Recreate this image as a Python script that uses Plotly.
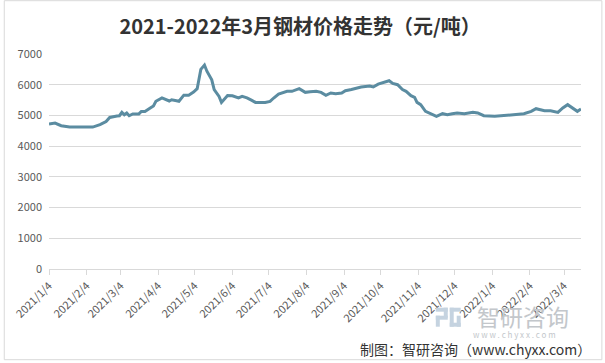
import plotly.graph_objects as go

dates = [
    "2021-01-04", "2021-01-09", "2021-01-14", "2021-01-18", "2021-01-21", "2021-02-09",
    "2021-02-15", "2021-02-20", "2021-02-23", "2021-03-01", "2021-03-03", "2021-03-05",
    "2021-03-07", "2021-03-09", "2021-03-11", "2021-03-14", "2021-03-19", "2021-03-21",
    "2021-03-24", "2021-03-29", "2021-03-31", "2021-04-02", "2021-04-07", "2021-04-13",
    "2021-04-15", "2021-04-19", "2021-04-21", "2021-04-25", "2021-04-29", "2021-05-03",
    "2021-05-06", "2021-05-09", "2021-05-12", "2021-05-14", "2021-05-18", "2021-05-20",
    "2021-05-24", "2021-05-26", "2021-05-31", "2021-06-04", "2021-06-09", "2021-06-12",
    "2021-06-16", "2021-06-20", "2021-06-23", "2021-07-01", "2021-07-05", "2021-07-08",
    "2021-07-12", "2021-07-19", "2021-07-23", "2021-07-29", "2021-08-03", "2021-08-07",
    "2021-08-12", "2021-08-16", "2021-08-20", "2021-08-24", "2021-08-28", "2021-09-02",
    "2021-09-05", "2021-09-10", "2021-09-14", "2021-09-18", "2021-09-25", "2021-09-28",
    "2021-10-02", "2021-10-08", "2021-10-11", "2021-10-14", "2021-10-18", "2021-10-22",
    "2021-10-25", "2021-10-29", "2021-11-01", "2021-11-03", "2021-11-06", "2021-11-10",
    "2021-11-13", "2021-11-19", "2021-11-24", "2021-11-28", "2021-12-02", "2021-12-06",
    "2021-12-12", "2021-12-19", "2021-12-23", "2021-12-28", "2022-01-06", "2022-01-11",
    "2022-01-19", "2022-01-30", "2022-02-05", "2022-02-09", "2022-02-16", "2022-02-21",
    "2022-02-27", "2022-03-03", "2022-03-07", "2022-03-12", "2022-03-15", "2022-03-18",
]
prices = [
    4720, 4750, 4665, 4640, 4625, 4620,
    4700, 4800, 4935, 4980, 4990, 5100,
    5020, 5080, 4990, 5050, 5050, 5130,
    5130, 5260, 5310, 5460, 5570, 5470,
    5510, 5480, 5460, 5660, 5660, 5760,
    5870, 6500, 6640, 6440, 6160, 5840,
    5620, 5425, 5650, 5640, 5570, 5620,
    5570, 5490, 5425, 5425, 5457, 5567,
    5698, 5784, 5784, 5871, 5751, 5773,
    5784, 5751, 5653, 5730, 5708, 5730,
    5806, 5845, 5893, 5926, 5960, 5926,
    6020, 6100, 6130, 6040, 6000, 5840,
    5784, 5643, 5590, 5425, 5350, 5133,
    5079, 4970, 5057, 5024, 5057, 5079,
    5057, 5100, 5079, 4990, 4970, 4990,
    5024, 5057, 5133, 5220, 5155, 5155,
    5100, 5242, 5350, 5210, 5133, 5210,
]

tick_dates = [
    "2021-01-04", "2021-02-04", "2021-03-04", "2021-04-04", "2021-05-04",
    "2021-06-04", "2021-07-04", "2021-08-04", "2021-09-04", "2021-10-04",
    "2021-11-04", "2021-12-04", "2022-01-04", "2022-02-04", "2022-03-04",
]
tick_labels = [
    "2021/1/4", "2021/2/4", "2021/3/4", "2021/4/4", "2021/5/4",
    "2021/6/4", "2021/7/4", "2021/8/4", "2021/9/4", "2021/10/4",
    "2021/11/4", "2021/12/4", "2022/1/4", "2022/2/4", "2022/3/4",
]
y_ticks = [0, 1000, 2000, 3000, 4000, 5000, 6000, 7000]

FONT = "Noto Sans CJK SC, Noto Sans, sans-serif"

fig = go.Figure()
fig.add_trace(go.Scatter(
    x=dates, y=prices, mode="lines",
    line=dict(color="#5b8ca1", width=3),
    hoverinfo="skip", showlegend=False,
))

# plot area in pixels: left 46, right 581, top 54.3, bottom 269.3
L, R, T, B = 46, 581, 54.3, 269.3
W, H = 605, 363


def px(x):
    return (x - L) / (R - L)


def py(y):
    return (B - y) / (B - T)


fig.update_layout(
    width=W, height=H,
    margin=dict(l=L, r=W - R, t=T, b=H - B),
    paper_bgcolor="white", plot_bgcolor="white",
    font=dict(family=FONT, size=11, color="#595959"),
    title=dict(
        text="<b>2021-2022年3月钢材价格走势（元/吨）</b>",
        x=px(298.5), xref="paper", xanchor="center",
        y=1 - 26.5 / H, yref="container", yanchor="middle",
        font=dict(family=FONT, size=20, color="#333333"),
    ),
    xaxis=dict(
        type="date",
        range=["2021-01-04", "2022-03-18"],
        tickvals=tick_dates, ticktext=tick_labels,
        tickangle=-45,
        showgrid=False, zeroline=False,
        showline=True, linecolor="#d9d9d9", linewidth=1,
        ticks="outside", ticklen=5, tickcolor="#d9d9d9",
        tickfont=dict(family=FONT, size=11, color="#595959"),
    ),
    yaxis=dict(
        range=[0, 7000], tickvals=y_ticks,
        showgrid=True, gridcolor="#d9d9d9", gridwidth=1,
        zeroline=False, showline=False, ticks="",
        ticklabelstandoff=6,
        tickfont=dict(family=FONT, size=11, color="#595959"),
    ),
)

# outer frame
fig.add_shape(type="rect", xref="paper", yref="paper",
              x0=px(1), x1=px(602), y0=py(360), y1=py(1),
              line=dict(color="#d9d9d9", width=1), fillcolor="rgba(0,0,0,0)", layer="below")

# watermark logo icon
logo_color = "#c5d3e0"
for (x0, y0, x1, y1) in [(435, 308, 447, 312), (443, 308, 447, 318), (435, 316, 447, 320),
                         (435, 316, 439, 327), (449, 308, 460, 312), (449, 308, 453, 327),
                         (449, 323, 460, 327), (456, 316, 460, 327)]:
    fig.add_shape(type="rect", xref="paper", yref="paper",
                  x0=px(x0), x1=px(x1), y0=py(y1), y1=py(y0),
                  line=dict(width=0), fillcolor=logo_color, layer="above")

fig.add_annotation(text="智研咨询", xref="paper", yref="paper",
                   x=px(523), y=py(316.5), xanchor="center", yanchor="middle",
                   showarrow=False,
                   font=dict(family=FONT, size=23, color="#c3c7cb"))
fig.add_annotation(text="w w w . c h y x x . c o m", xref="paper", yref="paper",
                   x=px(514), y=py(334.5), xanchor="center", yanchor="middle",
                   showarrow=False,
                   font=dict(family=FONT, size=8, color="#c3c7cb"))
fig.add_annotation(text="制图：智研咨询（www.chyxx.com）", xref="paper", yref="paper",
                   x=px(593), y=py(349), xanchor="right", yanchor="middle",
                   showarrow=False,
                   font=dict(family=FONT, size=14, color="#333333"))

fig.write_html("out.html",
               config={"displayModeBar": False},
               post_script="document.body.style.margin='0';document.body.style.overflow='hidden';")
